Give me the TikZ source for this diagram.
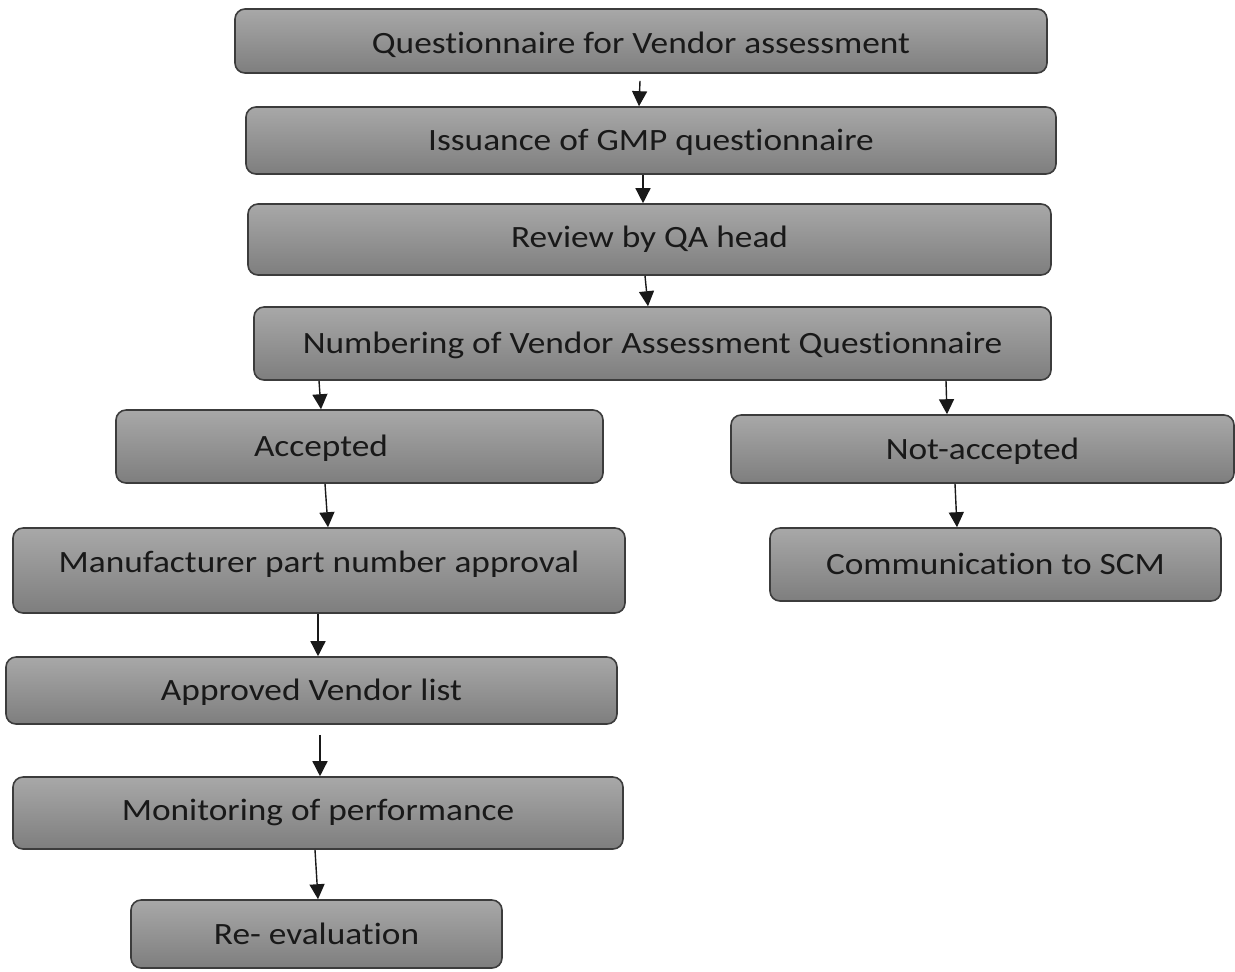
\documentclass[tikz,border=0pt]{standalone}
\usepackage{fontspec}
\setmainfont{Carlito}[FakeStretch=1.14, Ligatures={NoCommon}]
\usetikzlibrary{arrows.meta}
\definecolor{boxtop}{RGB}{168,168,168}
\definecolor{boxbot}{RGB}{126,126,126}
\definecolor{boxline}{RGB}{60,60,60}
\definecolor{txt}{RGB}{25,25,25}
\tikzset{
  box/.style={rectangle, rounded corners=5pt, draw=boxline, line width=0.8pt,
    top color=boxtop, bottom color=boxbot, text=txt, inner sep=0pt,
    font=\fontsize{15.5}{18}\selectfont, text height=13pt, text depth=3pt},
  arr/.style={draw=black!90, line width=0.7pt, -{Triangle[length=7.5pt,width=7.5pt]}}
}
\begin{document}
\begin{tikzpicture}[x=0.5pt,y=-0.5pt]
\useasboundingbox (0,0) rectangle (1235,971);
\node[box, minimum width=406pt, minimum height=32pt] (q1) at (641,41) {\raisebox{-1pt}[\height][\depth]{Questionnaire for Vendor assessment}};
\node[box, minimum width=405pt, minimum height=33.5pt] (q2) at (651,140.5) {Issuance of GMP questionnaire};
\node[box, minimum width=401.5pt, minimum height=35.5pt] (q3) at (649.5,239.5) {\raisebox{1pt}[\height][\depth]{Review by QA head}};
\node[box, minimum width=398.5pt, minimum height=36.5pt] (q4) at (652.5,343.5) {Numbering of Vendor Assessment Questionnaire};
\node[box, minimum width=243.5pt, minimum height=36.5pt] (q5) at (359.5,446.5) {Accepted\hspace*{38.5pt}};
\node[box, minimum width=251.5pt, minimum height=34pt] (q6) at (982.5,449) {Not-accepted};
\node[box, minimum width=306pt, minimum height=42.5pt] (q7) at (319,570.5) {\raisebox{4pt}[\height][\depth]{Manufacturer part number approval}};
\node[box, minimum width=225.5pt, minimum height=36.5pt] (q8) at (995.5,564.5) {Communication to SCM};
\node[box, minimum width=305.5pt, minimum height=33.5pt] (q9) at (311.5,690.5) {Approved Vendor list};
\node[box, minimum width=305pt, minimum height=36pt] (q10) at (318,813) {\raisebox{1.5pt}[\height][\depth]{Monitoring of performance}};
\node[box, minimum width=185.5pt, minimum height=34pt] (q11) at (316.5,934) {Re- evaluation};

\draw[arr] ([xshift=-0.5pt,yshift=-3.5pt]q1.south) -- ([xshift=-6pt]q2.north);
\draw[arr] ([xshift=-4pt]q2.south) -- ([xshift=-3.25pt]q3.north);
\draw[arr] ([xshift=-2.25pt]q3.south) -- ([xshift=-2.25pt]q4.north);
\draw[arr] ([xshift=-166.75pt]q4.south) -- ([xshift=-19.25pt]q5.north);
\draw[arr] ([xshift=146.75pt]q4.south) -- ([xshift=-17.75pt]q6.north);
\draw[arr] ([xshift=-17.25pt]q5.south) -- ([xshift=4.5pt]q7.north);
\draw[arr] ([xshift=-13.75pt]q6.south) -- ([xshift=-19.25pt]q8.north);
\draw[arr] ([xshift=-0.5pt]q7.south) -- ([xshift=3.25pt]q9.north);
\draw[arr] ([xshift=4.25pt,yshift=-5pt]q9.south) -- ([xshift=1pt]q10.north);
\draw[arr] ([xshift=-1.5pt]q10.south) -- ([xshift=0.75pt]q11.north);
\end{tikzpicture}
\end{document}
